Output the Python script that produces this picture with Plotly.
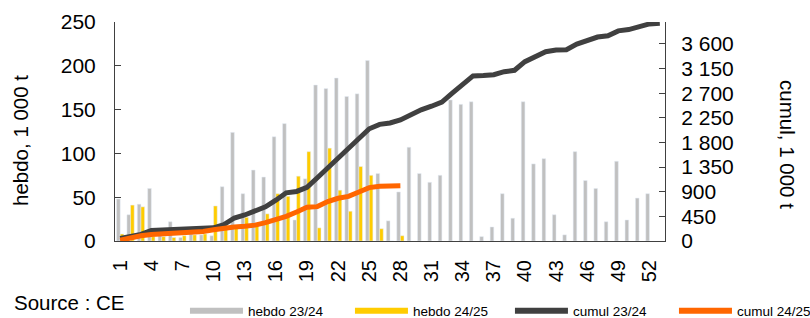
import plotly.graph_objects as go

weeks = list(range(1, 54))
tick_weeks = list(range(1, 53, 3))

hebdo_2324 = [48, 30, 42, 60, 12, 22, 4, 8, 7, 6,
              62, 124, 54, 81, 73, 119, 134, 24, 71, 178,
              174, 186, 165, 168, 206, 77, 23, 56, 107, 77,
              67, 75, 161, 156, 159, 5, 16, 54, 26, 159,
              88, 94, 30, 7, 102, 69, 60, 22, 91, 24,
              49, 54, None]
hebdo_2425 = [8, 41, 39, 5, 5, 4, 6, 7, 8, 40,
              18, 15, 27, 19, 31, 54, 51, 74, 102, 15,
              106, 58, 34, 85, 75, 14, 0, 6]
cumul_2324 = [48, 78, 120, 190, 200, 212, 216, 224, 231, 240,
              300, 420, 475, 550, 625, 745, 880, 905, 980, 1155,
              1330, 1515, 1685, 1850, 2050, 2130, 2155, 2210, 2315, 2395,
              2462, 2538, 2700, 2855, 3015, 3022, 3038, 3092, 3118, 3275,
              3362, 3458, 3488, 3495, 3597, 3665, 3725, 3748, 3838, 3862,
              3912, 3965, 3975]
cumul_2425 = [15, 58, 95, 120, 130, 138, 148, 160, 172, 205,
              240, 255, 270, 290, 335, 390, 450, 530, 615, 628,
              720, 780, 815, 895, 975, 1000, 1005, 1008]

y2_ticks = [0, 450, 900, 1350, 1800, 2250, 2700, 3150, 3600]
y2_labels = ["0", "450", "900", "1 350", "1 800", "2 250", "2 700", "3 150", "3 600"]

GREY = "#C0C0C0"
YELLOW = "#FFCC00"
DARK = "#404040"
ORANGE = "#FF6600"
FONT = "Liberation Sans, Arial, sans-serif"

fig = go.Figure()
fig.add_trace(go.Bar(x=weeks, y=hebdo_2324, name="hebdo 23/24",
                     marker_color=GREY, showlegend=False))
fig.add_trace(go.Bar(x=weeks[:len(hebdo_2425)], y=hebdo_2425, name="hebdo 24/25",
                     marker_color=YELLOW, showlegend=False))
fig.add_trace(go.Scatter(x=weeks, y=cumul_2324, name="cumul 23/24", yaxis="y2",
                         mode="lines", line=dict(color=DARK, width=5), showlegend=False))
fig.add_trace(go.Scatter(x=weeks[:len(cumul_2425)], y=cumul_2425, name="cumul 24/25", yaxis="y2",
                         mode="lines", line=dict(color=ORANGE, width=5), showlegend=False))

# legend entries (line swatches like the original), one legend box per entry
legend_items = [("hebdo 23/24", GREY, "legend", 0.1272),
                ("hebdo 24/25", YELLOW, "legend2", 0.4272),
                ("cumul 23/24", DARK, "legend3", 0.7181),
                ("cumul 24/25", ORANGE, "legend4", 1.0163)]
legend_layouts = {}
for name, col, lg, lx in legend_items:
    fig.add_trace(go.Scatter(x=[None], y=[None], mode="lines", name=name, legend=lg,
                             line=dict(color=col, width=6), showlegend=True))
    legend_layouts[lg] = dict(orientation="h", x=lx, xanchor="left", y=-0.32, yanchor="middle",
                              font=dict(size=13.5, family=FONT), itemwidth=53,
                              bgcolor="rgba(0,0,0,0)")

fig.update_layout(
    width=810, height=318,
    margin=dict(l=115, r=145, t=22, b=77, autoexpand=False),
    paper_bgcolor="white", plot_bgcolor="white",
    font=dict(family=FONT, color="black"),
    barmode="group", bargap=0.3, bargroupgap=0,
    xaxis=dict(range=[0.5, 53.5], tickvals=tick_weeks, ticktext=[str(t) for t in tick_weeks],
               tickangle=-90, tickfont=dict(size=20), showline=True, linecolor=DARK,
               linewidth=1, ticks="", showgrid=False, zeroline=False, ticklabelstandoff=10,
               automargin=False),
    yaxis=dict(range=[0, 250], tickvals=[0, 50, 100, 150, 200, 250], tickfont=dict(size=21),
               showline=True, linecolor=DARK, linewidth=1, ticks="inside", ticklen=6,
               tickcolor=DARK, showgrid=False, zeroline=False, ticklabelstandoff=14,
               automargin=False),
    yaxis2=dict(range=[0, 4000], overlaying="y", side="right", tickvals=y2_ticks,
                ticktext=y2_labels, tickfont=dict(size=21), showline=True, linecolor=DARK,
                linewidth=1, ticks="inside", ticklen=6, tickcolor=DARK, showgrid=False,
                zeroline=False, ticklabelstandoff=11, automargin=False),
    annotations=[
        dict(text="hebdo, 1 000 t", xref="paper", yref="paper", x=-0.1727, y=0.4566,
             textangle=-90, showarrow=False, font=dict(size=20.5), xanchor="center", yanchor="middle"),
        dict(text="cumul, 1 000 t", xref="paper", yref="paper", x=1.2236, y=0.438,
             textangle=90, showarrow=False, font=dict(size=20.5), xanchor="center", yanchor="middle"),
        dict(text="Source : CE", xref="paper", yref="paper", x=-0.187, y=-0.279,
             showarrow=False, font=dict(size=20.5), xanchor="left", yanchor="middle"),
    ],
    **legend_layouts,
)

fig.write_html("out.html", config={"displayModeBar": False},
               post_script="document.body.style.margin='0';document.body.style.overflow='hidden';")
